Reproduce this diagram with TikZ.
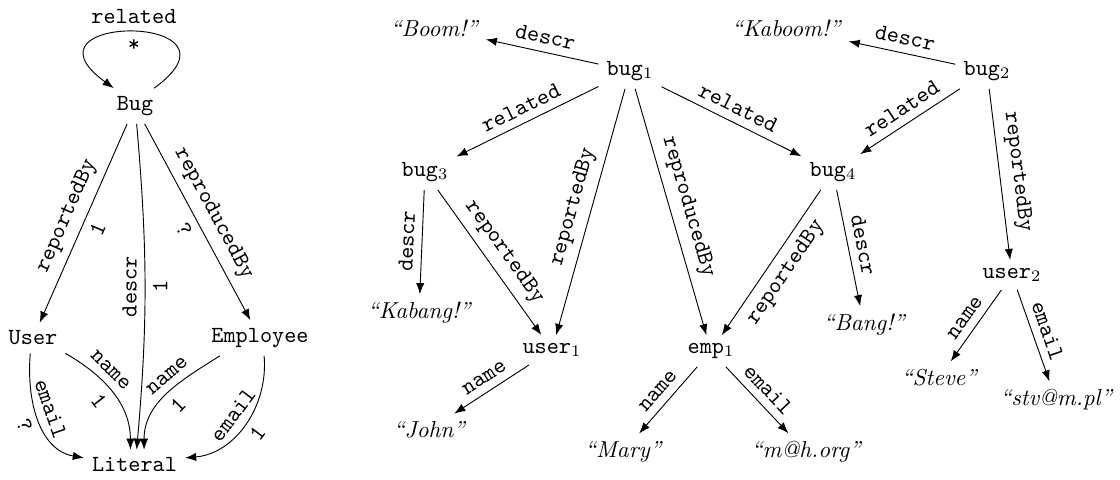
\documentclass[tikz,border=0pt]{standalone}
\usetikzlibrary{arrows.meta}
\begin{document}
\begin{tikzpicture}[x=0.01522cm,y=0.01522cm,
  every node/.style={font=\ttfamily},
  arr/.style={-{Latex}},
  lit/.style={font=\rmfamily\itshape},
  lbl/.style={sloped}]
\useasboundingbox (0,0) rectangle (1120,-480);
% ---------- schema ----------
\node (Bug) at (135,-106) {Bug};
\node (User) at (33,-338) {User};
\node (Emp) at (260,-338) {Employee};
\node (Lit) at (134.5,-465) {Literal};
\draw[arr] (Bug.43) .. controls +(36:128) and +(144:128) .. (Bug.140)
  node[pos=0.5,above] {related} node[pos=0.5,below] {*};
\draw[arr] (Bug) -- node[lbl,above]{reportedBy} node[lbl,below]{1} (User);
\draw[arr] (Bug) -- node[lbl,above]{reproducedBy} node[lbl,below]{?} (Emp);
\draw[arr] (Bug) to[bend left=5] node[rotate=90,anchor=south]{descr} node[rotate=90,anchor=north]{1} (Lit.82);
\draw[arr] (User.south east) to[out=-30,in=90]
  node[lbl,pos=.35,above]{name} node[lbl,pos=.48,below]{1} (Lit.105);
\draw[arr] (User.260) to[out=-95,in=170]
  node[lbl,pos=.45,above]{email} node[lbl,pos=.5,below]{?} (Lit.172);
\draw[arr] (Emp.204) to[out=212,in=90]
  node[lbl,pos=.4,above]{name} node[lbl,pos=.5,below]{1} (Lit.58);
\draw[arr] (Emp.-77) to[out=-85,in=5]
  node[lbl,pos=.5,above]{email} node[lbl,pos=.5,below]{1} (Lit.8);
% ---------- instance ----------
\node (b1) at (630,-71) {bug$_1$};
\node (b2) at (987,-71) {bug$_2$};
\node (b3) at (425,-172) {bug$_3$};
\node (b4) at (833,-172) {bug$_4$};
\node (u1) at (552,-350) {user$_1$};
\node (u2) at (1012,-275) {user$_2$};
\node (e1) at (711,-351) {emp$_1$};
\node[lit] (boom) at (434,-28) {``Boom!''};
\node[lit] (kaboom) at (786,-28) {``Kaboom!''};
\node[lit] (kabang) at (419,-313) {``Kabang!''};
\node[lit] (bang) at (864,-325) {``Bang!''};
\node[lit] (john) at (429,-430) {``John''};
\node[lit] (mary) at (623,-452) {``Mary''};
\node[lit] (mh) at (806,-452) {``m@h.org''};
\node[lit] (steve) at (939,-378) {``Steve''};
\node[lit] (stv) at (1056,-400) {``stv@m.pl''};
\draw[arr] (b1) -- node[lbl,above]{descr} (boom);
\draw[arr] (b1) -- node[lbl,above]{related} (b3);
\draw[arr] (b1) -- node[lbl,above]{related} (b4);
\draw[arr] (b1) -- node[lbl,above]{reportedBy} (u1);
\draw[arr] (b1) -- node[lbl,above]{reproducedBy} (e1);
\draw[arr] (b2) -- node[lbl,above]{descr} (kaboom);
\draw[arr] (b2) -- node[lbl,above]{related} (b4);
\draw[arr] (b2) -- node[lbl,above]{reportedBy} (u2);
\draw[arr] (b3) -- node[lbl,above]{descr} (kabang);
\draw[arr] (b3) -- node[lbl,above]{reportedBy} (u1);
\draw[arr] (b4) -- node[lbl,below]{reportedBy} (e1);
\draw[arr] (b4) -- node[lbl,above]{descr} (bang);
\draw[arr] (u1) -- node[lbl,above]{name} (john);
\draw[arr] (e1) -- node[lbl,above]{name} (mary);
\draw[arr] (e1) -- node[lbl,above]{email} (mh);
\draw[arr] (u2) -- node[lbl,above]{name} (steve);
\draw[arr] (u2) -- node[lbl,above]{email} (stv);
\end{tikzpicture}
\end{document}
